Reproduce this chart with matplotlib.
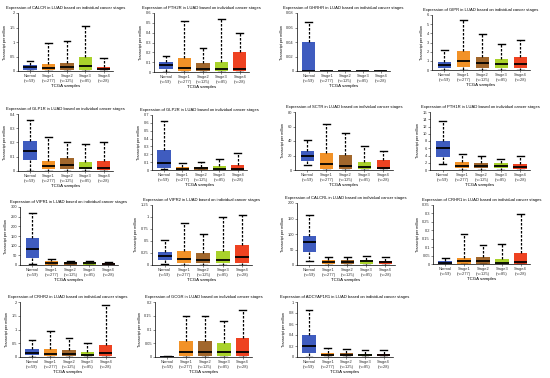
import matplotlib
matplotlib.use("Agg")
import matplotlib.pyplot as plt
import numpy as np

plt.rcParams["font.family"] = ["Liberation Sans", "DejaVu Sans"]

STAGES = ["Normal\n(n=59)", "Stage1\n(n=277)", "Stage2\n(n=125)",
          "Stage3\n(n=85)", "Stage4\n(n=28)"]
COLORS = ["#3f5cbf", "#f29227", "#a2672c", "#a9d22b", "#ee4221"]

# per stage: (whisker low, q1, median, q3, whisker high)
CALCR = [(0, 0.05, 0.13, 0.2, 0.34), (0, 0.04, 0.12, 0.23, 0.97),
         (0, 0.04, 0.13, 0.28, 1.02), (0, 0.05, 0.16, 0.5, 1.55),
         (0, 0.02, 0.07, 0.13, 0.45)]
PTH2R = [(0, 0.03, 0.07, 0.1, 0.16), (0, 0.01, 0.045, 0.145, 0.52),
         (0, 0.01, 0.035, 0.093, 0.24), (0, 0.01, 0.035, 0.1, 0.54),
         (0, 0.01, 0.035, 0.2, 0.4)]
GHRHR = [(0, 0, 0, 0.04, 0.067), (0, 0, 0, 0, 0), (0, 0, 0, 0, 0),
         (0, 0, 0, 0, 0), (0, 0, 0, 0, 0)]
GIPR = [(0.05, 0.18, 0.55, 0.9, 2.2), (0.02, 0.36, 0.98, 2.07, 5.5),
        (0.02, 0.25, 0.73, 1.45, 3.9), (0.02, 0.25, 0.7, 1.2, 2.8),
        (0.02, 0.25, 0.65, 1.4, 3.27)]
GLP1R = [(0, 0.08, 0.14, 0.21, 0.36), (0, 0.012, 0.035, 0.07, 0.24),
         (0, 0.016, 0.045, 0.09, 0.205), (0, 0.012, 0.024, 0.063, 0.19),
         (0, 0.005, 0.02, 0.068, 0.2)]
GLP2R = [(0.01, 0.03, 0.093, 0.255, 0.62), (0, 0.004, 0.017, 0.038, 0.093),
         (0, 0.004, 0.02, 0.042, 0.105), (0, 0.004, 0.013, 0.046, 0.135),
         (0, 0.004, 0.01, 0.063, 0.22)]
SCTR = [(6.5, 13, 19, 26.4, 40.7), (0, 1.4, 8.8, 23, 64),
        (0, 1, 6, 20.4, 51), (0, 0.9, 4.6, 11.6, 33),
        (0, 1, 3.2, 14.4, 26.4)]
PTH1R = [(1.7, 3.5, 6.2, 8.05, 13.6), (0.1, 0.65, 1.2, 2.1, 4.35),
         (0.1, 0.55, 1.1, 1.95, 4.0), (0.1, 0.55, 1.1, 1.85, 3.15),
         (0.05, 0.4, 0.9, 1.75, 3.9)]
VIPR1 = [(5, 35, 81, 139, 269), (0, 2, 9, 19, 29), (0, 2, 10, 17, 21),
         (0, 2, 9, 16, 21), (0, 2, 7, 12, 17)]
VIPR2 = [(0.02, 0.1, 0.19, 0.28, 0.52), (0, 0.035, 0.12, 0.29, 0.87),
         (0, 0.035, 0.1, 0.24, 0.65), (0, 0.035, 0.11, 0.29, 1.0),
         (0, 0.035, 0.17, 0.42, 1.04)]
CALCRL = [(14, 41, 73.5, 95, 162), (0, 4, 11, 16, 27), (0, 4, 10, 16, 27),
          (0, 4, 12, 17, 29), (0, 3, 9, 14, 25)]
CRHR1 = [(0, 0.002, 0.006, 0.018, 0.037), (0, 0.002, 0.016, 0.036, 0.176),
         (0, 0.002, 0.016, 0.04, 0.113), (0, 0.002, 0.008, 0.028, 0.117),
         (0, 0.002, 0.014, 0.065, 0.294)]
CRHR2 = [(0, 0.06, 0.16, 0.3, 0.62), (0, 0.03, 0.1, 0.28, 0.95),
         (0, 0.03, 0.1, 0.25, 0.7), (0, 0.03, 0.08, 0.2, 0.5),
         (0, 0.05, 0.15, 0.45, 1.9)]
GCGR = [(0, 0, 0, 0.002, 0.004), (0, 0.002, 0.02, 0.06, 0.15),
        (0, 0.002, 0.02, 0.06, 0.15), (0, 0.002, 0.02, 0.05, 0.13),
        (0, 0.002, 0.02, 0.07, 0.17)]
ADCYAP1R1 = [(0, 0.08, 0.2, 0.4, 0.85), (0, 0.01, 0.03, 0.07, 0.16),
             (0, 0.01, 0.03, 0.07, 0.15), (0, 0.01, 0.03, 0.06, 0.13),
             (0, 0.01, 0.03, 0.06, 0.12)]

GENES = ["CALCR", "PTH2R", "GHRHR", "GIPR", "GLP1R", "GLP2R", "SCTR", "PTH1R",
         "VIPR1", "VIPR2", "CALCRL", "CRHR1", "CRHR2", "GCGR", "ADCYAP1R1"]
DATA = [CALCR, PTH2R, GHRHR, GIPR, GLP1R, GLP2R, SCTR, PTH1R,
        VIPR1, VIPR2, CALCRL, CRHR1, CRHR2, GCGR, ADCYAP1R1]
YTICKS = [[0, 0.5, 1, 1.5, 2], np.arange(0, 0.61, 0.1), [0, 0.02, 0.04, 0.06, 0.08],
          range(0, 7), np.arange(0, 0.41, 0.1), np.arange(0, 0.71, 0.1),
          range(0, 81, 20), range(0, 17, 2), range(0, 301, 50),
          [0, 0.25, 0.5, 0.75, 1, 1.25], range(0, 201, 50),
          np.arange(0, 0.351, 0.05), [0, 0.5, 1, 1.5, 2], [0, 0.05, 0.1, 0.15, 0.2],
          [0, 0.2, 0.4, 0.6, 0.8, 1.0]]

# axes boxes in pixels: left, top, right, bottom
RECTS = [(18, 13, 113, 71), (154, 13, 249, 72), (297, 13, 390, 71), (432, 15, 530, 70),
         (18, 114, 113, 171), (152, 115, 247, 170), (295, 112, 393, 170), (430, 112, 530, 170),
         (20, 207, 118, 265), (152, 205, 252, 265), (297, 203, 395, 265), (433, 205, 530, 264),
         (20, 302, 115, 357), (155, 302, 252, 357), (297, 302, 393, 357)]

W, H = 550, 378


def fmt(v):
    s = f"{v:.2f}".rstrip("0").rstrip(".")
    return s


def panel(fig, rect, gene, rows, yticks):
    l, t, r, b = rect
    ax = fig.add_axes([l / W, 1 - b / H, (r - l) / W, (b - t) / H])
    stats = [dict(whislo=s[0], q1=s[1], med=s[2], q3=s[3], whishi=s[4], fliers=[])
             for s in rows]
    bp = ax.bxp(stats, positions=range(1, 6), widths=0.72, patch_artist=True,
                showfliers=False,
                medianprops=dict(color="black", lw=1.3),
                whiskerprops=dict(color="black", lw=0.9, ls=(0, (2, 1.2))),
                capprops=dict(color="black", lw=1.0),
                boxprops=dict(lw=0))
    for patch, c in zip(bp["boxes"], COLORS):
        patch.set_facecolor(c)
    yt = list(yticks)
    ax.set_ylim(0, yt[-1])
    ax.set_yticks(yt)
    ax.set_yticklabels([fmt(v) for v in yt])
    ax.set_xlim(0.35, 5.5)
    ax.set_xticks(range(1, 6))
    ax.set_xticklabels(STAGES, linespacing=1.3)
    for sp in ["top", "right"]:
        ax.spines[sp].set_visible(False)
    for sp in ["left", "bottom"]:
        ax.spines[sp].set_linewidth(0.5)
    ax.tick_params(labelsize=2.9, length=1.2, width=0.4, pad=1, colors="#333333")
    ax.set_ylabel("Transcript per million", fontsize=2.7, labelpad=2)
    ax.set_xlabel("TCGA samples", fontsize=3.2, labelpad=1)
    ax.set_title(f"Expression of {gene} in LUAD based on individual cancer stages",
                 fontsize=3.0, pad=3)
    return ax


fig = plt.figure(figsize=(W / 100, H / 100), dpi=100)
for rect, gene, rows, yt in zip(RECTS, GENES, DATA, YTICKS):
    panel(fig, rect, gene, rows, yt)

fig.savefig("out.png", dpi=100)
